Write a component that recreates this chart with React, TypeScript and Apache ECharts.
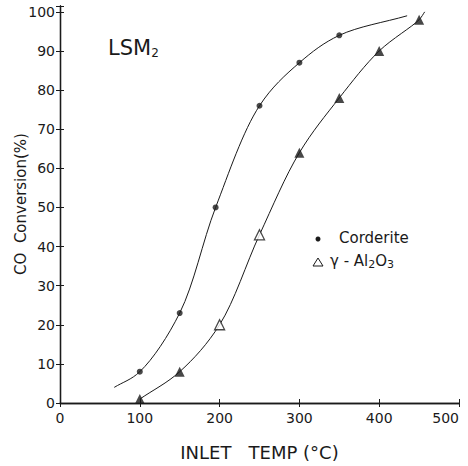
import React, { useEffect, useRef } from "react";
import * as echarts from "echarts";

// Measured data points
const corderiteX = [100, 150, 195, 250, 300, 350];
const corderiteY = [8, 23, 50, 76, 87, 94];
// Fitted curve drawn through the points (ends)
const corderiteCurveX = [68, 100, 150, 195, 250, 300, 350, 435];
const corderiteCurveY = [4, 8, 23, 50, 76, 87, 94, 99];

const aluminaX = [100, 150, 200, 250, 300, 350, 400, 450];
const aluminaY = [1, 8, 20, 43, 64, 78, 90, 98];
const aluminaOpen = [false, false, true, true, false, false, false, false];
const aluminaCurveX = [100, 150, 200, 250, 300, 350, 400, 450, 457];
const aluminaCurveY = [1, 8, 20, 43, 64, 78, 90, 98, 100];

const xTicks = [0, 100, 200, 300, 400, 500];
const yTicks = [0, 10, 20, 30, 40, 50, 60, 70, 80, 90, 100];
const Y_FRAME_TOP = 101.5; // top frame sits a little above 100

const FONT = "DejaVu Sans";
const INK = "#1a1a1a";

// Centripetal Catmull-Rom spline through the data, in pixel space
function splineSeries(xs: number[], ys: number[]) {
  const data = xs.map((x, i) => [x, ys[i]]);
  return {
    type: "custom",
    silent: true,
    data,
    encode: { x: 0, y: 1 },
    renderItem: (params: any, api: any) => {
      if (params.dataIndex !== 0) return { type: "group", children: [] };
      const p = data.map((d) => api.coord(d) as number[]);
      const n = p.length;
      const ext = [
        [2 * p[0][0] - p[1][0], 2 * p[0][1] - p[1][1]],
        ...p,
        [2 * p[n - 1][0] - p[n - 2][0], 2 * p[n - 1][1] - p[n - 2][1]],
      ];
      const a = 0.5;
      const dist = (u: number[], v: number[]) =>
        Math.max(1e-6, Math.hypot(u[0] - v[0], u[1] - v[1]));
      let d = `M${p[0][0]},${p[0][1]}`;
      for (let i = 1; i < ext.length - 2; i++) {
        const p0 = ext[i - 1];
        const p1 = ext[i];
        const p2 = ext[i + 1];
        const p3 = ext[i + 2];
        const d1 = dist(p0, p1);
        const d2 = dist(p1, p2);
        const d3 = dist(p2, p3);
        const d1a = Math.pow(d1, a), d2a = Math.pow(d2, a), d3a = Math.pow(d3, a);
        const d1a2 = d1a * d1a, d2a2 = d2a * d2a, d3a2 = d3a * d3a;
        const c1 = [0, 1].map(
          (k) =>
            (d1a2 * p2[k] - d2a2 * p0[k] + (2 * d1a2 + 3 * d1a * d2a + d2a2) * p1[k]) /
            (3 * d1a * (d1a + d2a))
        );
        const c2 = [0, 1].map(
          (k) =>
            (d3a2 * p1[k] - d2a2 * p3[k] + (2 * d3a2 + 3 * d3a * d2a + d2a2) * p2[k]) /
            (3 * d3a * (d3a + d2a))
        );
        d += ` C${c1[0]},${c1[1]} ${c2[0]},${c2[1]} ${p2[0]},${p2[1]}`;
      }
      return {
        type: "path",
        shape: { pathData: d },
        style: { fill: "none", stroke: INK, lineWidth: 1 },
      };
    },
  };
}

export default function App() {
  const ref = useRef<HTMLDivElement>(null);
  useEffect(() => {
    if (!ref.current) return;
    const chart = echarts.init(ref.current, undefined, { renderer: "svg" });
    const zip = (xs: number[], ys: number[]) => xs.map((x, i) => [x, ys[i]]);
    const axisCommon = {
      min: 0,
      axisLine: { show: true, lineStyle: { color: INK, width: 1.3 } },
      axisTick: { show: true, inside: true, length: 4, lineStyle: { color: INK } },
      splitLine: { show: false },
    };
    chart.setOption({
      animation: false,
      backgroundColor: "#ffffff",
      grid: { left: 60, right: 9, top: 6, bottom: 62 },
      xAxis: [
        {
          ...axisCommon,
          type: "value",
          max: xTicks[xTicks.length - 1],
          interval: 100,
          name: "INLET   TEMP (°C)",
          nameLocation: "middle",
          nameGap: 40,
          nameTextStyle: { fontFamily: FONT, fontSize: 18, color: INK },
          axisLabel: {
            fontFamily: FONT,
            fontSize: 14,
            color: INK,
            margin: 8,
            alignMaxLabel: "right",
          },
        },
        {
          ...axisCommon,
          type: "value",
          position: "top",
          max: 500,
          interval: 100,
          axisLabel: { show: false },
        },
      ],
      yAxis: [
        {
          ...axisCommon,
          type: "value",
          max: Y_FRAME_TOP,
          interval: 10,
          axisLabel: {
            fontFamily: FONT,
            fontSize: 14,
            color: INK,
            margin: 5,
            formatter: (v: number) => (yTicks.includes(v) ? String(v) : ""),
          },
        },
        {
          ...axisCommon,
          type: "value",
          position: "right",
          max: Y_FRAME_TOP,
          interval: 10,
          axisLabel: { show: false },
        },
      ],
      series: [
        splineSeries(corderiteCurveX, corderiteCurveY),
        splineSeries(aluminaCurveX, aluminaCurveY),
        {
          type: "scatter",
          name: "Corderite",
          data: zip(corderiteX, corderiteY),
          symbol: "circle",
          symbolSize: 6,
          itemStyle: { color: INK },
        },
        {
          type: "scatter",
          name: "γ-Al2O3",
          data: aluminaX.map((x, i) => ({
            value: [x, aluminaY[i]],
            itemStyle: aluminaOpen[i]
              ? { color: "#ffffff", borderColor: INK, borderWidth: 1.3 }
              : { color: INK },
          })),
          symbol: "triangle",
          symbolSize: 10,
        },
      ],
      graphic: [
        {
          type: "text",
          x: 21,
          y: 204,
          rotation: Math.PI / 2,
          style: {
            text: "CO  Conversion(%)",
            fontFamily: FONT,
            fontSize: 15,
            fill: INK,
            align: "center",
            verticalAlign: "middle",
          },
        },
        {
          type: "text",
          left: 108,
          top: 37,
          style: {
            text: "{a|LSM}{b|2}",
            fill: INK,
            rich: {
              a: { fontFamily: FONT, fontSize: 21, fill: INK, color: INK },
              b: { fontFamily: FONT, fontSize: 12, fill: INK, color: INK, padding: [10, 0, 0, 0] },
            },
          },
        },
        {
          type: "circle",
          shape: { cx: 318, cy: 239, r: 2.5 },
          style: { fill: INK },
        },
        {
          type: "text",
          left: 339,
          top: 230,
          style: { text: "Corderite", fontFamily: FONT, fontSize: 15, fill: INK },
        },
        {
          type: "polygon",
          shape: { points: [[318, 258], [313, 266], [323, 266]] },
          style: { fill: "none", stroke: INK, lineWidth: 1 },
        },
        {
          type: "text",
          left: 330,
          top: 253,
          style: {
            text: "{a|γ - Al}{b|2}{a|O}{b|3}",
            rich: {
              a: { fontFamily: FONT, fontSize: 15, fill: INK },
              b: { fontFamily: FONT, fontSize: 11, fill: INK, padding: [8, 0, 0, 0] },
            },
          },
        },
      ],
    });
    return () => chart.dispose();
  }, []);
  return (
    <div
      ref={ref}
      style={{ position: "absolute", left: 0, top: 0, width: 468, height: 466 }}
    />
  );
}
